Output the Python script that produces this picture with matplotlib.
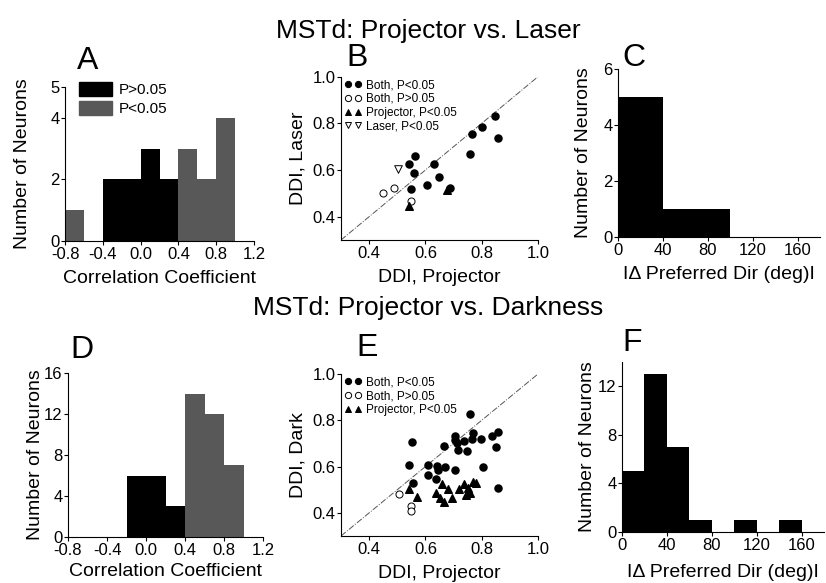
import matplotlib
matplotlib.use("Agg")
import matplotlib.pyplot as plt
from matplotlib.lines import Line2D
from matplotlib.patches import Patch
import numpy as np

plt.rcParams['font.family'] = ['Liberation Sans', 'DejaVu Sans']

W, H = 826, 583

# ---------------- data ----------------
corr_bin_left = [-0.8, -0.6, -0.4, -0.2, 0.0, 0.2, 0.4, 0.6, 0.8]
corr_bin_width = 0.2
A_ns = [0, 0, 2, 2, 3, 2, 0, 0, 0]
A_sig = [1, 0, 0, 0, 0, 0, 3, 2, 4]
D_ns = [0, 0, 0, 6, 6, 3, 0, 0, 0]
D_sig = [0, 0, 0, 0, 0, 0, 14, 12, 7]

dir_bin_left = [0, 20, 40, 60, 80, 100, 120, 140, 160]
dir_bin_width = 20
C_counts = [5, 5, 1, 1, 1, 0, 0, 0, 0]
F_counts = [5, 13, 7, 1, 0, 1, 0, 1, 0]

# Panel B: Projector vs Laser
B_both_sig_x = [0.847, 0.801, 0.765, 0.857, 0.758, 0.564, 0.543, 0.630, 0.561, 0.647, 0.605, 0.548, 0.687]
B_both_sig_y = [0.833, 0.786, 0.756, 0.736, 0.669, 0.658, 0.625, 0.625, 0.589, 0.569, 0.535, 0.520, 0.524]
B_both_ns_x = [0.448, 0.488, 0.548]
B_both_ns_y = [0.503, 0.523, 0.469]
B_proj_x = [0.542, 0.676]
B_proj_y = [0.446, 0.515]
B_laser_x = [0.504]
B_laser_y = [0.603]

# Panel E: Projector vs Darkness
E_both_sig_x = [0.758, 0.859, 0.835, 0.768, 0.553, 0.705, 0.705, 0.737, 0.764, 0.796,
                0.665, 0.711, 0.717, 0.749, 0.850, 0.543, 0.610, 0.642, 0.670, 0.644,
                0.705, 0.803, 0.609, 0.636, 0.555, 0.859]
E_both_sig_y = [0.827, 0.750, 0.731, 0.745, 0.708, 0.731, 0.713, 0.711, 0.718, 0.720,
                0.690, 0.700, 0.672, 0.669, 0.684, 0.607, 0.607, 0.604, 0.597, 0.587,
                0.584, 0.597, 0.565, 0.545, 0.528, 0.506]
E_both_ns_x = [0.507, 0.549, 0.548]
E_both_ns_y = [0.482, 0.431, 0.408]
E_proj_x = [0.543, 0.569, 0.659, 0.639, 0.680, 0.652, 0.667, 0.693, 0.720, 0.738,
            0.752, 0.744, 0.758, 0.770, 0.780]
E_proj_y = [0.505, 0.469, 0.526, 0.485, 0.505, 0.464, 0.447, 0.463, 0.503, 0.524,
            0.509, 0.477, 0.485, 0.534, 0.531]

GRAY = '#585858'

fig = plt.figure(figsize=(W / 100, H / 100), dpi=100)


def add_ax(L, R, T, B):
    return fig.add_axes([L / W, 1 - B / H, (R - L) / W, (B - T) / H])


def style(ax):
    for s in ['top', 'right']:
        ax.spines[s].set_visible(False)
    for s in ['left', 'bottom']:
        ax.spines[s].set_linewidth(0.8)
    ax.tick_params(direction='out', length=3, width=0.8, labelsize=12, pad=1)


LAB_FS = 14
LET_FS = 23

# ---------- A ----------
axA = add_ax(65, 254, 87, 241)
axA.bar(corr_bin_left, A_ns, width=corr_bin_width, align='edge', color='black', linewidth=0)
axA.bar(corr_bin_left, A_sig, width=corr_bin_width, align='edge', bottom=A_ns, color=GRAY, linewidth=0)
axA.set_xlim(-0.8, 1.2)
axA.set_ylim(0, 5)
axA.set_xticks([-0.8, -0.4, 0.0, 0.4, 0.8, 1.2])
axA.set_xticklabels(['-0.8', '-0.4', '0.0', '0.4', '0.8', '1.2'])
axA.set_yticks([0, 2, 4, 5])
style(axA)
axA.set_xlabel('Correlation Coefficient', fontsize=LAB_FS, labelpad=6)
axA.set_ylabel('Number of Neurons', fontsize=LAB_FS, labelpad=14)
axA.legend(handles=[Patch(color='black', label='P>0.05'), Patch(color=GRAY, label='P<0.05')],
           loc='upper left', bbox_to_anchor=(0.04, 1.07), frameon=False, fontsize=11,
           handlelength=2.2, handleheight=1.0, handletextpad=0.4, labelspacing=0.25, borderaxespad=0)

# ---------- B ----------
axB = add_ax(341, 538, 76.7, 240)
axB.plot([0.3, 1.0], [0.3, 1.0], color='#555555', lw=0.7, ls='-.', zorder=1)
ms = 26
axB.scatter(B_both_sig_x, B_both_sig_y, s=ms, marker='o', color='black', zorder=3)
axB.scatter(B_both_ns_x, B_both_ns_y, s=ms, marker='o', facecolor='white', edgecolor='black', linewidth=0.7, zorder=3)
axB.scatter(B_proj_x, B_proj_y, s=ms + 4, marker='^', color='black', zorder=3)
axB.scatter(B_laser_x, B_laser_y, s=ms + 4, marker='v', facecolor='white', edgecolor='black', linewidth=0.7, zorder=3)
axB.set_xlim(0.3, 1.0)
axB.set_ylim(0.3, 1.0)
axB.set_xticks([0.4, 0.6, 0.8, 1.0])
axB.set_yticks([0.4, 0.6, 0.8, 1.0])
style(axB)
axB.set_xlabel('DDI, Projector', fontsize=LAB_FS, labelpad=6)
axB.set_ylabel('DDI, Laser', fontsize=LAB_FS, labelpad=4)


def scatter_legend(ax, entries):
    handles = []
    for mk, fc, lab in entries:
        handles.append(Line2D([], [], ls='none', marker=mk, markersize=4.5, markerfacecolor=fc,
                              markeredgecolor='black', markeredgewidth=0.7, color='black', label=lab))
    ax.legend(handles=handles, loc='upper left', bbox_to_anchor=(0.02, 0.985), frameon=False,
              fontsize=8.5, numpoints=2, handlelength=1.4, handletextpad=0.4, labelspacing=0.15,
              borderaxespad=0, borderpad=0)


scatter_legend(axB, [('o', 'black', 'Both, P<0.05'), ('o', 'white', 'Both, P>0.05'),
                     ('^', 'black', 'Projector, P<0.05'), ('v', 'white', 'Laser, P<0.05')])

# ---------- C ----------
axC = add_ax(618, 820, 69, 237)
axC.bar(dir_bin_left, C_counts, width=dir_bin_width, align='edge', color='black', linewidth=0)
axC.set_xlim(0, 180)
axC.set_ylim(0, 6)
axC.set_xticks([0, 40, 80, 120, 160])
axC.set_yticks([0, 2, 4, 6])
style(axC)
axC.set_xlabel('I\u0394 Preferred Dir (deg)I', fontsize=LAB_FS, labelpad=6)
axC.set_ylabel('Number of Neurons', fontsize=LAB_FS, labelpad=8)

# ---------- D ----------
axD = add_ax(68, 263, 373, 537)
axD.bar(corr_bin_left, D_ns, width=corr_bin_width, align='edge', color='black', linewidth=0)
axD.bar(corr_bin_left, D_sig, width=corr_bin_width, align='edge', bottom=D_ns, color=GRAY, linewidth=0)
axD.set_xlim(-0.8, 1.2)
axD.set_ylim(0, 16)
axD.set_xticks([-0.8, -0.4, 0.0, 0.4, 0.8, 1.2])
axD.set_xticklabels(['-0.8', '-0.4', '0.0', '0.4', '0.8', '1.2'])
axD.set_yticks([0, 4, 8, 12, 16])
style(axD)
axD.set_xlabel('Correlation Coefficient', fontsize=LAB_FS, labelpad=4)
axD.set_ylabel('Number of Neurons', fontsize=LAB_FS, labelpad=0)

# ---------- E ----------
axE = add_ax(341, 538, 374, 536)
axE.plot([0.3, 1.0], [0.3, 1.0], color='#555555', lw=0.7, ls='-.', zorder=1)
axE.scatter(E_both_sig_x, E_both_sig_y, s=ms, marker='o', color='black', zorder=3)
axE.scatter(E_both_ns_x, E_both_ns_y, s=ms, marker='o', facecolor='white', edgecolor='black', linewidth=0.7, zorder=3)
axE.scatter(E_proj_x, E_proj_y, s=ms + 4, marker='^', color='black', zorder=3)
axE.set_xlim(0.3, 1.0)
axE.set_ylim(0.3, 1.0)
axE.set_xticks([0.4, 0.6, 0.8, 1.0])
axE.set_yticks([0.4, 0.6, 0.8, 1.0])
style(axE)
axE.set_xlabel('DDI, Projector', fontsize=LAB_FS, labelpad=6)
axE.set_ylabel('DDI, Dark', fontsize=LAB_FS, labelpad=4)
scatter_legend(axE, [('o', 'black', 'Both, P<0.05'), ('o', 'white', 'Both, P>0.05'),
                     ('^', 'black', 'Projector, P<0.05')])

# ---------- F ----------
axF = add_ax(622, 824, 362, 532)
axF.bar(dir_bin_left, F_counts, width=dir_bin_width, align='edge', color='black', linewidth=0)
axF.set_xlim(0, 180)
axF.set_ylim(0, 14)
axF.set_xticks([0, 40, 80, 120, 160])
axF.set_yticks([0, 4, 8, 12])
style(axF)
axF.set_xlabel('I\u0394 Preferred Dir (deg)I', fontsize=LAB_FS, labelpad=8)
axF.set_ylabel('Number of Neurons', fontsize=LAB_FS, labelpad=1)

# ---------- titles and letters ----------
fig.text(428 / W, 1 - 31 / H, 'MSTd: Projector vs. Laser', ha='center', va='center', fontsize=19)
fig.text(428 / W, 1 - 308 / H, 'MSTd: Projector vs. Darkness', ha='center', va='center', fontsize=19)
for x, y, t in [(88, 61, 'A'), (357, 58, 'B'), (634, 58, 'C'),
                (82, 350, 'D'), (367, 348, 'E'), (632, 343, 'F')]:
    fig.text(x / W, 1 - y / H, t, ha='center', va='center', fontsize=LET_FS)

fig.savefig('out.png', dpi=100)
